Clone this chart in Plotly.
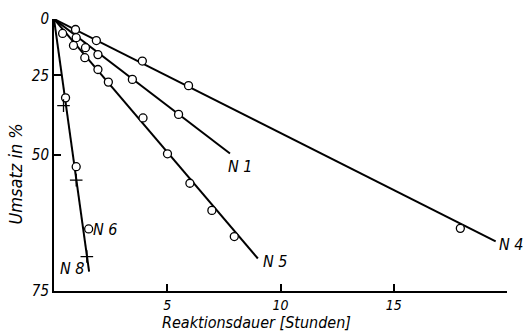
import numpy as np
import plotly.graph_objects as go

# Umsatz (%) vs Reaktionsdauer (Stunden); y axis is first-order scale -ln(1-U)
n4_t = [0.95, 1.87, 3.90, 5.94, 17.94]
n4_u = [5.2, 10.4, 19.3, 28.8, 65.6]
n1_t = [0.98, 1.39, 1.94, 3.46, 5.50]
n1_u = [9.1, 13.6, 16.6, 26.5, 38.5]
n5_t = [0.38, 0.86, 1.36, 1.94, 2.40, 3.93, 5.01, 6.00, 6.97, 7.96]
n5_u = [7.1, 12.6, 17.9, 22.7, 27.5, 39.6, 49.7, 56.7, 62.3, 67.0]
n6_t = [0.51, 0.98, 1.53]
n6_u = [33.1, 52.9, 65.7]
n8_t = [0.42, 0.98, 1.45]
n8_u = [35.7, 56.0, 70.2]

# fitted straight lines (start, end)
line_n4_t = [0, 19.5]
line_n4_u = [0, 67.8]
line_n1_t = [0, 7.77]
line_n1_u = [0, 49.6]
line_n5_t = [0, 9.0]
line_n5_u = [0, 70.5]
line_n68_t = [0, 1.55]
line_n68_u = [0, 72.4]

y_ticks = [0, 25, 50, 75]
x_ticks = [5, 10, 15, 20]
x_ticktext = ["5", "10", "15", ""]


def tr(u):
    return -np.log(1 - np.asarray(u, dtype=float) / 100.0)


FONT = "Liberation Sans Narrow, DejaVu Sans Condensed, Liberation Sans, sans-serif"

fig = go.Figure()
for lt, lu in [(line_n4_t, line_n4_u), (line_n1_t, line_n1_u),
               (line_n5_t, line_n5_u), (line_n68_t, line_n68_u)]:
    fig.add_trace(go.Scatter(x=lt, y=tr(lu), mode="lines",
                             line=dict(color="black", width=2),
                             showlegend=False, hoverinfo="skip"))

for t, u in [(n4_t, n4_u), (n1_t, n1_u), (n5_t, n5_u), (n6_t, n6_u)]:
    fig.add_trace(go.Scatter(x=t, y=tr(u), mode="markers",
                             marker=dict(symbol="circle", size=8, color="white",
                                         line=dict(color="black", width=1.3)),
                             showlegend=False))
fig.add_trace(go.Scatter(x=n8_t, y=tr(n8_u), mode="markers",
                         marker=dict(symbol="cross-thin", size=9, color="black",
                                     line=dict(color="black", width=1.3)),
                         showlegend=False))

labels = [("N 1", 8.25, 52.9, "center"), ("N 4", 19.55, 68.3, "left"),
          ("N 5", 9.76, 70.9, "center"), ("N 6", 2.28, 65.8, "center"),
          ("N 8", 0.82, 72.0, "center")]
for txt, lx, lu, xa in labels:
    fig.add_annotation(x=lx, y=float(tr(lu)), text=txt, showarrow=False,
                       xanchor=xa, yanchor="middle",
                       font=dict(family=FONT, size=16, color="black", style="italic"))

# axis titles
fig.add_annotation(x=0.448, y=-0.158, xref="paper", yref="paper",
                   text="Reaktionsdauer [Stunden]", showarrow=False,
                   xanchor="center", yanchor="bottom",
                   font=dict(family=FONT, size=16, color="black", style="italic"))
fig.add_annotation(x=-0.085, y=0.43, xref="paper", yref="paper",
                   text="Umsatz in %", showarrow=False, textangle=-90,
                   xanchor="center", yanchor="middle",
                   font=dict(family=FONT, size=18, color="black", style="italic"))

fig.update_layout(
    width=523, height=331,
    margin=dict(l=54, r=16, t=19, b=40, autoexpand=False),
    paper_bgcolor="white", plot_bgcolor="white",
    showlegend=False,
    font=dict(family=FONT, color="black"),
)
fig.update_xaxes(range=[0, 20], showgrid=False, zeroline=False, automargin=False,
                 showline=True, linecolor="black", linewidth=2,
                 ticks="inside", ticklen=7, tickwidth=1.5, tickcolor="black",
                 tickvals=x_ticks, ticktext=x_ticktext,
                 tickfont=dict(family=FONT, size=14, style="italic"))
fig.update_yaxes(range=[float(tr(75)), 0], showgrid=False, zeroline=False, automargin=False,
                 showline=True, linecolor="black", linewidth=2,
                 ticks="inside", ticklen=7, tickwidth=1.5, tickcolor="black",
                 tickvals=tr(y_ticks), ticktext=[str(v) for v in y_ticks],
                 tickfont=dict(family=FONT, size=15, style="italic"))

fig.write_html("out.html")
